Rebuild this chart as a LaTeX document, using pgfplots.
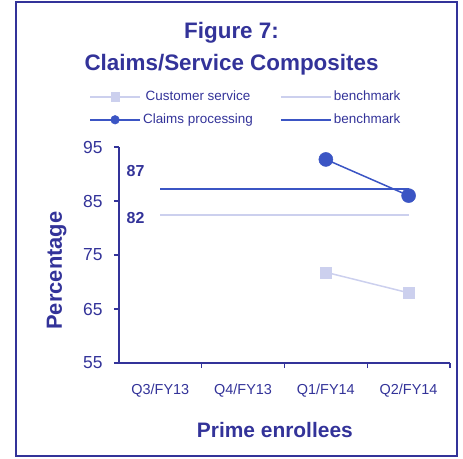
\documentclass[border=0pt]{standalone}
\usepackage{pgfplots}
\pgfplotsset{compat=1.18}
\usepackage{fontspec}
\setmainfont{Liberation Sans}
\definecolor{navy}{HTML}{333399}
\definecolor{dblue}{HTML}{3B55C4}
\definecolor{lblue}{HTML}{CCD0EE}
\begin{document}
\begin{tikzpicture}
\begin{axis}[
  at={(0,0)}, anchor=south west,
  scale only axis, width=331bp, height=216bp,
  xmin=-0.5, xmax=3.5, ymin=55, ymax=95,
  clip=false,
  axis x line*=bottom, axis y line*=left,
  axis line style={navy, line width=1.2bp, -},
  tick align=outside, major tick length=5bp,
  tick style={navy, line width=1.2bp},
  ytick={55,65,75,85,95},
  xtick={0.5,1.5,2.5,3.5}, xticklabels={,,,},
  extra x ticks={0,1,2,3},
  extra x tick labels={Q3/FY13,Q4/FY13,Q1/FY14,Q2/FY14},
  extra x tick style={major tick length=0pt},
  /pgf/number format/assume math mode=true,
  yticklabel style={font=\fontsize{17.5}{20}\selectfont, text=navy, xshift=-8bp},
  xticklabel style={font=\fontsize{14.5}{17}\selectfont, text=navy, anchor=base, yshift=-31bp},
  legend columns=2,
  legend style={draw=none, fill=none, at={(-0.1,1.279)}, anchor=north west,
    font=\fontsize{13.5}{16}\selectfont, text=navy,
    /tikz/every even column/.append style={column sep=25bp}, row sep=8bp},
  legend image code/.code={\draw[line width=2bp,mark repeat=2,mark phase=2,mark size=4.3bp] plot coordinates {(0bp,0bp)(25bp,0bp)(50bp,0bp)};},
]
\addplot[lblue, line width=1.5bp, mark=square*, mark size=5.5bp, mark options={line width=0.5bp}] coordinates {(2,71.8)(3,68.0)};
\addlegendentry{Customer service}
\addplot[lblue, line width=2bp] coordinates {(0,82.5)(3,82.5)};
\addlegendentry{benchmark}
\addplot[dblue, line width=1.5bp, mark=*, mark size=7bp, mark options={line width=0.5bp}] coordinates {(2,92.7)(3,86.0)};
\addlegendentry{Claims processing}
\addplot[dblue, line width=2bp] coordinates {(0,87.3)(3,87.3)};
\addlegendentry{benchmark}

\node[anchor=base east, font=\bfseries\fontsize{16}{19}\selectfont, text=navy] at (axis cs:-0.15,89.5) {87};
\node[anchor=base east, font=\bfseries\fontsize{16}{19}\selectfont, text=navy] at (axis cs:-0.15,80.9) {82};

\node[anchor=base, font=\bfseries\fontsize{22.5}{27}\selectfont, text=navy] at (axis description cs:0.34,1.5046) {Figure 7:};
\node[anchor=base, font=\bfseries\fontsize{22.5}{27}\selectfont, text=navy] at (axis description cs:0.34,1.3565) {Claims/Service Composites};
\node[anchor=base, rotate=90, font=\bfseries\fontsize{22}{26}\selectfont, text=navy] at (axis description cs:-0.1722,0.428) {Percentage};
\node[anchor=base, font=\bfseries\fontsize{21}{25}\selectfont, text=navy] at (axis description cs:0.471,-0.3426) {Prime enrollees};

\draw[navy, line width=1.5bp] (axis description cs:-0.3112,-0.4306) rectangle (axis description cs:1.0211,1.6713);
\path (axis description cs:-0.3595,-0.4444) rectangle (axis description cs:1.0393,1.6806);
\end{axis}
\end{tikzpicture}
\end{document}
